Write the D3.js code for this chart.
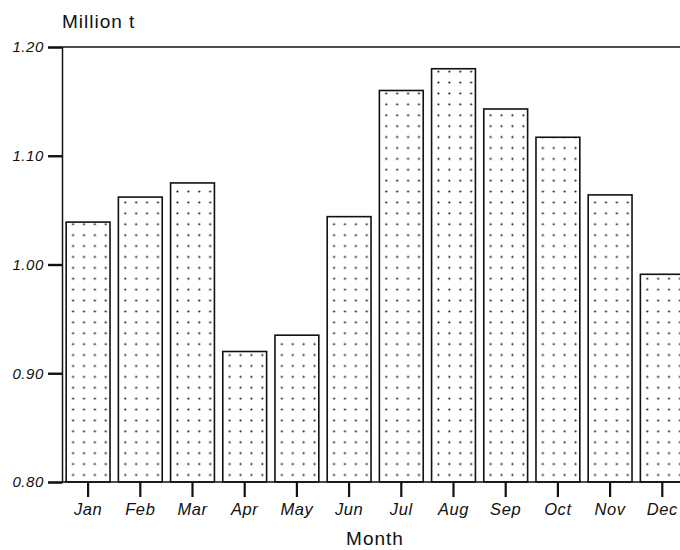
<!DOCTYPE html>
<html>
<head>
<meta charset="utf-8">
<script src="https://cdn.jsdelivr.net/npm/d3@7"></script>
<style>
  body { margin: 0; background: #fff; }
  text { font-family: "Liberation Sans", Arial, sans-serif; fill: #111; }
</style>
</head>
<body>
<div id="chart"></div>
<script>
const months = ["Jan", "Feb", "Mar", "Apr", "May", "Jun", "Jul", "Aug", "Sep", "Oct", "Nov", "Dec"];
const values = [1.039, 1.062, 1.075, 0.920, 0.935, 1.044, 1.160, 1.180, 1.143, 1.117, 1.064, 0.991];
const yTicks = [0.80, 0.90, 1.00, 1.10, 1.20];

const width = 680, height = 550;
const margin = {left: 62, top: 47, right: 0, bottom: 68};

const svg = d3.select("#chart").append("svg")
  .attr("width", width)
  .attr("height", height);

const x = d3.scaleBand()
  .domain(months)
  .range([margin.left, margin.left + 12 * 52.2])
  .paddingInner(0.16)
  .paddingOuter(0.08);

const y = d3.scaleLinear()
  .domain([0.80, 1.20])
  .range([height - margin.bottom, margin.top]);

const defs = svg.append("defs");
defs.append("clipPath").attr("id", "plot-clip")
  .append("rect")
  .attr("x", margin.left).attr("y", 0)
  .attr("width", width - margin.left).attr("height", height);

// dot fill, one pattern per bar so the dots line up with each bar
months.forEach((m, i) => {
  const p = defs.append("pattern")
    .attr("id", "dots-" + i)
    .attr("patternUnits", "userSpaceOnUse")
    .attr("x", x(m) + 1.5)
    .attr("y", y(0.80) - 12.5)
    .attr("width", 10.9)
    .attr("height", 10.9);
  p.append("circle")
    .attr("cx", 5.4).attr("cy", 5.4)
    .attr("r", 1.05)
    .attr("fill", "#111");
});

const plot = svg.append("g").attr("clip-path", "url(#plot-clip)");

plot.selectAll(".bar")
  .data(values)
  .enter().append("rect")
  .attr("class", "bar")
  .attr("x", (d, i) => x(months[i]))
  .attr("y", d => y(d))
  .attr("width", x.bandwidth())
  .attr("height", d => y(0.80) - y(d))
  .attr("fill", (d, i) => "url(#dots-" + i + ")")
  .attr("stroke", "#111")
  .attr("stroke-width", 1.6);

// frame: top line at 1.20 and the baseline
svg.append("line")
  .attr("x1", margin.left).attr("x2", width)
  .attr("y1", y(1.20)).attr("y2", y(1.20))
  .attr("stroke", "#111").attr("stroke-width", 1.4);
svg.append("line")
  .attr("x1", margin.left).attr("x2", width)
  .attr("y1", y(0.80)).attr("y2", y(0.80))
  .attr("stroke", "#111").attr("stroke-width", 1.4);

const yAxis = svg.append("g")
  .attr("transform", "translate(" + margin.left + ",0)")
  .call(d3.axisLeft(y).tickValues(yTicks).tickFormat(d3.format(".2f")).tickSize(14).tickPadding(4));
yAxis.select(".domain").attr("stroke", "#111").attr("stroke-width", 1.5);
yAxis.selectAll(".tick line").attr("stroke", "#111").attr("stroke-width", 2.4);
yAxis.selectAll(".tick text")
  .style("font-size", "15px")
  .style("font-style", "italic")
  .style("letter-spacing", "0.6px")
  .attr("fill", "#111");

const xAxis = svg.append("g")
  .attr("transform", "translate(0," + y(0.80) + ")")
  .call(d3.axisBottom(x).tickSize(15).tickPadding(6));
xAxis.select(".domain").remove();
xAxis.selectAll(".tick line").attr("stroke", "#111").attr("stroke-width", 2.2);
xAxis.selectAll(".tick text")
  .style("font-size", "16.5px")
  .style("font-style", "italic")
  .style("letter-spacing", "0.6px")
  .attr("fill", "#111");

svg.append("text")
  .attr("x", 62).attr("y", 28)
  .style("font-size", "19px")
  .style("letter-spacing", "1px")
  .text("Million t");

svg.append("text")
  .attr("x", 375).attr("y", 545)
  .attr("text-anchor", "middle")
  .style("font-size", "19px")
  .style("letter-spacing", "1px")
  .text("Month");
</script>
</body>
</html>
